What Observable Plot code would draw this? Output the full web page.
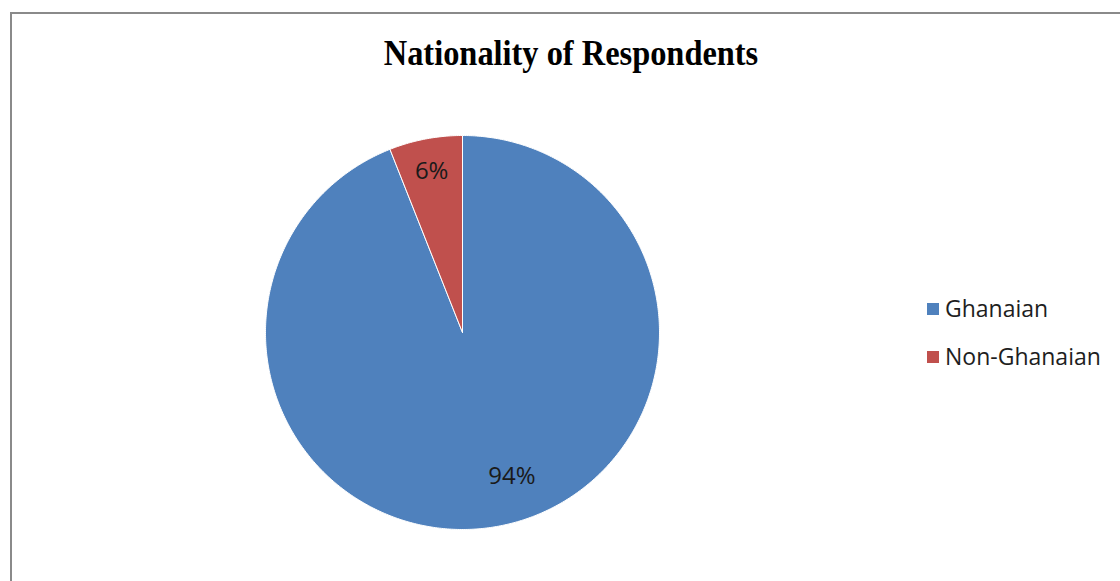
<!DOCTYPE html>
<html>
<head>
<meta charset="utf-8">
<script src="https://cdn.jsdelivr.net/npm/d3@7"></script>
<script src="https://cdn.jsdelivr.net/npm/@observablehq/plot@0.6"></script>
<style>
  html, body { margin: 0; padding: 0; background: #fff; }
  #wrap { position: relative; width: 1120px; height: 581px; overflow: hidden; }
  #border { position: absolute; left: 10px; top: 12px; width: 1200px; height: 700px;
            border-left: 2px solid #8a8a8a; border-top: 2px solid #8a8a8a; }
  #title { position: absolute; left: 0; width: 1142px; top: 35px; text-align: center; line-height: 1;
           font-family: "Liberation Serif", "Times New Roman", serif; font-weight: bold;
           font-size: 36px; color: #000; transform: scaleX(0.9); transform-origin: 571px 0; white-space: nowrap; }
  #legend { position: absolute; left: 927px; top: 292px;
            font-family: "Open Sans", "Liberation Sans", sans-serif; font-size: 23px; color: #1e1e1e; }
  .row { display: flex; align-items: center; height: 32px; margin-bottom: 16px; }
  .sw { width: 12px; height: 12px; margin-right: 6px; margin-top: 2px; }
  #chart { position: absolute; left: 0; top: 0; }
</style>
</head>
<body>
<div id="wrap">
  <div id="chart"></div>
  <div id="border"></div>
  <div id="title"></div>
  <div id="legend"></div>
</div>
<script>
const title = "Nationality of Respondents";
const categories = ["Ghanaian", "Non-Ghanaian"];
const values = [94, 6];
const labels = ["94%", "6%"];
const colors = ["#4F81BD", "#C0504D"];

// slice geometry from d3.pie (clockwise from 12 o'clock, as in the source)
const arcs = d3.pie().sort(null).value(d => d)(values);
const pts = [];
arcs.forEach((a, i) => {
  const n = Math.max(2, Math.ceil((a.endAngle - a.startAngle) / 0.01));
  pts.push({cat: categories[i], x: 0, y: 0});
  for (let k = 0; k <= n; k++) {
    const t = a.startAngle + (a.endAngle - a.startAngle) * k / n;
    pts.push({cat: categories[i], x: Math.sin(t), y: Math.cos(t)});
  }
  pts.push({cat: categories[i], x: 0, y: 0});
});
const labelPos = arcs.map((a, i) => {
  const m = (a.startAngle + a.endAngle) / 2;
  const r = i === 0 ? 0.77 : 0.835;
  return {label: labels[i], x: r * Math.sin(m), y: r * Math.cos(m)};
});

const cx = 462, cy = 332, R = 197;
const textStyle = {x: "x", y: "y", text: "label", fontSize: 24, fill: "#1a1a1a",
  fontFamily: "Open Sans, Liberation Sans, sans-serif"};
const chart = Plot.plot({
  width: 1120,
  height: 581,
  margin: 0,
  x: {domain: [-1, 1], range: [cx - R, cx + R], axis: null},
  y: {domain: [-1, 1], range: [cy + R, cy - R], axis: null},
  color: {domain: categories, range: colors},
  marks: [
    Plot.line(pts, {x: "x", y: "y", z: "cat", fill: "cat", stroke: "#fff", strokeWidth: 1, curve: "linear"}),
    Plot.text([labelPos[0]], {...textStyle, dx: 21, dy: -5}),
    Plot.text([labelPos[1]], {...textStyle, dx: 0, dy: 0})
  ]
});
document.getElementById("chart").append(chart);
document.getElementById("title").textContent = title;
const leg = document.getElementById("legend");
categories.forEach((c, i) => {
  const row = document.createElement("div");
  row.className = "row";
  row.innerHTML = `<div class="sw" style="background:${colors[i]}"></div><span>${c}</span>`;
  leg.append(row);
});
</script>
</body>
</html>
